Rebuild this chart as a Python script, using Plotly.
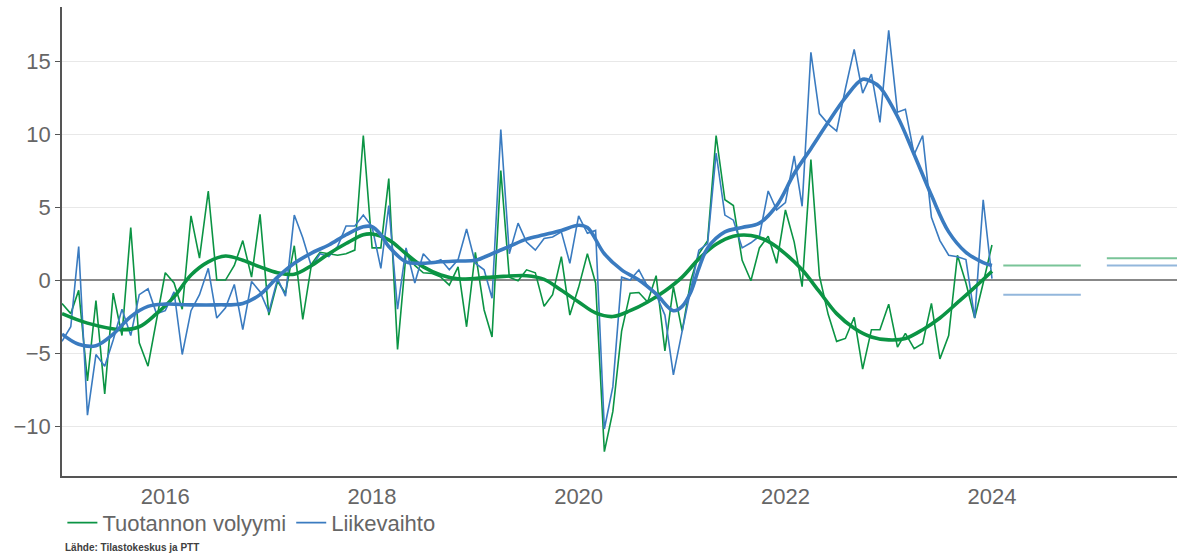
import pandas as pd
import plotly.graph_objects as go

# Monthly series, Jan 2015 .. Jan 2024 (annual change, %)
start = "2015-01-01"
volyymi = [-1.6, -2.3, -0.7, -6.9, -1.4, -7.8, -0.9, -3.8, 3.6, -4.3, -5.9, -2.7,
           0.5, -0.2, -2.0, 4.4, 1.5, 6.1, 0.0, 0.0, 1.0, 2.7, 0.2, 4.5,
           -2.4, -0.1, -0.9, 2.35, -2.7, 1.1, 1.9, 1.8, 1.7, 1.8, 2.05, 9.9,
           2.2, 2.2, 6.95, -4.75, 1.8, 1.0, 0.5, 0.45, 0.2, -0.35, 0.9, -3.2,
           1.9, -2.05, -3.9, 7.5, 0.2, -0.05, 0.7, 0.5, -1.8, -1.0, 1.6, -2.4,
           -0.5, 1.8, -0.2, -11.75, -9.0, -3.5, -0.9, -0.85, -1.5, 0.3, -4.85, -0.45,
           -3.5, 0.0, 1.8, 2.7, 9.9, 5.5, 5.1, 1.35, -0.05, 2.2, 3.0, 1.15,
           4.8, 2.6, -0.45, 8.25, 0.3, -2.35, -4.2, -4.0, -2.55, -6.1, -3.4, -3.4,
           -1.65, -4.6, -3.65, -4.7, -4.35, -1.6, -5.4, -3.8, 1.7, -0.2, -2.6, -0.2,
           2.4]
liikevaihto = [-4.2, -3.2, 2.3, -9.25, -5.1, -5.9, -4.1, -2.0, -3.8, -1.0, -0.6, -2.3,
               -2.1, -0.8, -5.1, -2.1, -1.0, 0.8, -2.6, -1.9, -0.3, -3.4, -0.1, -0.8,
               -2.2, 0.1, -1.1, 4.45, 2.9, 0.9, 1.8, 1.6, 2.3, 3.7, 3.7, 4.45,
               3.65, 0.8, 5.1, -2.0, 2.2, -0.2, 1.8, 1.15, 1.4, 0.7, 1.4, 3.5,
               1.15, 0.7, -1.25, 10.3, 1.8, 3.9, 2.6, 2.05, 2.85, 2.95, 3.3, 1.15,
               4.4, 3.2, 3.4, -10.2, -7.3, 0.2, 0.0, 0.7, -0.45, -1.0, -2.4, -6.5,
               -3.5, -0.45, 2.05, 2.5, 8.7, 4.45, 4.1, 2.2, 2.55, 3.0, 6.1, 4.8,
               5.3, 8.5, 5.05, 15.6, 11.4, 10.7, 10.2, 13.1, 15.8, 12.8, 14.1, 10.8,
               17.1, 11.5, 11.7, 8.6, 9.9, 4.3, 2.7, 1.7, 1.6, 1.4, -2.6, 5.5,
               0.1]

# Trend (read at month indices from Jan 2015)
vol_trend_m = [0, 3, 7, 9, 11, 13, 15, 17, 19, 21, 23, 25, 27, 29, 31, 33, 35, 36, 38, 40,
               42, 44, 46, 50, 54, 56, 58, 60, 62, 64, 66, 68, 70, 72, 74, 76, 78, 80,
               82, 84, 86, 88, 90, 92, 94, 96, 98, 100, 102, 104, 106, 108]
vol_trend = [-2.3, -2.95, -3.4, -3.2, -2.3, -1.15, 0.35, 1.25, 1.65, 1.35, 0.9, 0.5, 0.4,
             1.0, 1.8, 2.5, 3.1, 3.15, 2.75, 1.8, 0.9, 0.35, 0.08, 0.2, 0.3, 0.05, -0.7,
             -1.5, -2.25, -2.5, -2.1, -1.5, -0.75, 0.2, 1.45, 2.45, 3.0, 3.05, 2.65, 1.8,
             0.7, -0.8, -2.3, -3.3, -3.9, -4.1, -4.0, -3.4, -2.6, -1.55, -0.5, 0.6]
lv_trend_m = [0, 2, 4, 6, 8, 10, 12, 15, 18, 21, 23, 25, 27, 29, 31, 33, 35, 36, 37, 38,
              40, 42, 44, 46, 48, 50, 52, 54, 56, 58, 60, 61, 63, 65, 67, 69, 71, 72, 73,
              74, 75, 77, 79, 81, 83, 85, 87, 89, 91, 93, 94, 95, 97, 99, 101, 103, 105,
              107, 108]
lv_trend = [-3.7, -4.4, -4.5, -3.7, -2.5, -1.8, -1.65, -1.7, -1.7, -1.6, -1.0, 0.2, 1.15,
            1.85, 2.4, 3.1, 3.65, 3.65, 3.1, 2.3, 1.25, 1.15, 1.25, 1.3, 1.35, 1.8, 2.3,
            2.8, 3.1, 3.4, 3.75, 3.6, 1.8, 0.7, 0.0, -0.95, -2.1, -1.8, -0.8, 0.8, 2.2,
            3.3, 3.6, 3.9, 5.1, 7.3, 9.0, 10.8, 12.5, 13.75, 13.6, 13.2, 11.2, 8.6, 5.8,
            3.3, 1.9, 1.2, 1.0]

# Forecasts
ennuste_vuodet = [2024, 2025]
vol_ennuste = [1.0, 1.5]
lv_ennuste = [-1.0, 1.0]

GREEN = "#0B9444"
BLUE = "#3A7BC0"
GREEN_L = "rgba(11,148,68,0.55)"
BLUE_L = "rgba(58,123,192,0.55)"

dates = pd.date_range(start, periods=len(volyymi), freq="MS")
base = pd.Timestamp(start)


def mdates(ms):
    return [base + pd.DateOffset(months=m) for m in ms]


fig = go.Figure()
fig.add_trace(go.Scatter(x=dates, y=volyymi, mode="lines", name="Tuotannon volyymi",
                         line=dict(color=GREEN, width=1.6), legendgroup="v"))
fig.add_trace(go.Scatter(x=dates, y=liikevaihto, mode="lines", name="Liikevaihto",
                         line=dict(color=BLUE, width=1.6), legendgroup="l"))
fig.add_trace(go.Scatter(x=mdates(vol_trend_m), y=vol_trend, mode="lines", showlegend=False,
                         line=dict(color=GREEN, width=3.6, shape="spline", smoothing=1.0),
                         legendgroup="v"))
fig.add_trace(go.Scatter(x=mdates(lv_trend_m), y=lv_trend, mode="lines", showlegend=False,
                         line=dict(color=BLUE, width=3.6, shape="spline", smoothing=1.0),
                         legendgroup="l"))

for yr, gv, bv in zip(ennuste_vuodet, vol_ennuste, lv_ennuste):
    xs = [pd.Timestamp(f"{yr}-02-10"), pd.Timestamp(f"{yr}-11-10")]
    fig.add_trace(go.Scatter(x=xs, y=[gv, gv], mode="lines", showlegend=False,
                             line=dict(color=GREEN_L, width=2), legendgroup="v"))
    fig.add_trace(go.Scatter(x=xs, y=[bv, bv], mode="lines", showlegend=False,
                             line=dict(color=BLUE_L, width=2), legendgroup="l"))

fig.update_layout(
    width=1177, height=555,
    margin=dict(l=62, r=0, t=7, b=79, autoexpand=False),
    paper_bgcolor="white", plot_bgcolor="white",
    font=dict(family="Liberation Sans, Arial, sans-serif", size=22, color="#666666"),
    showlegend=True,
    legend=dict(orientation="h", xref="container", yref="container",
                x=0.053, xanchor="left", y=0.058, yanchor="middle",
                font=dict(size=22, color="#666666"),
                tracegroupgap=0, bgcolor="rgba(0,0,0,0)", borderwidth=0),
    annotations=[dict(text="<b>Lähde: Tilastokeskus ja PTT</b>", xref="paper", yref="paper",
                      x=0.001, xanchor="left", y=-0.1535, yanchor="middle", showarrow=False,
                      font=dict(size=10, color="#404040"))],
)
fig.update_xaxes(
    type="date", range=["2015-01-01", "2025-10-16"],
    tickvals=[pd.Timestamp(f"{y}-01-01") for y in [2016, 2018, 2020, 2022, 2024]],
    ticktext=["2016", "2018", "2020", "2022", "2024"],
    showgrid=False, showline=True, linecolor="#555555", linewidth=1.5,
    ticks="", tickfont=dict(size=22, color="#666666"), zeroline=False,
)
fig.update_yaxes(
    range=[-13.42, 18.7], tickvals=[-10, -5, 0, 5, 10, 15],
    ticktext=["\u221210", "\u22125", "0", "5", "10", "15"],
    showgrid=True, gridcolor="#E8E8E8", gridwidth=1,
    showline=True, linecolor="#555555", linewidth=1.5,
    ticks="outside", ticklen=5, tickcolor="#555555",
    zeroline=True, zerolinecolor="#888888", zerolinewidth=1.5,
    tickfont=dict(size=22, color="#666666"),
)

fig.write_html("out.html",
               config={"displayModeBar": False},
               post_script="document.body.style.margin='0';"
                           "document.body.style.overflow='hidden';")
